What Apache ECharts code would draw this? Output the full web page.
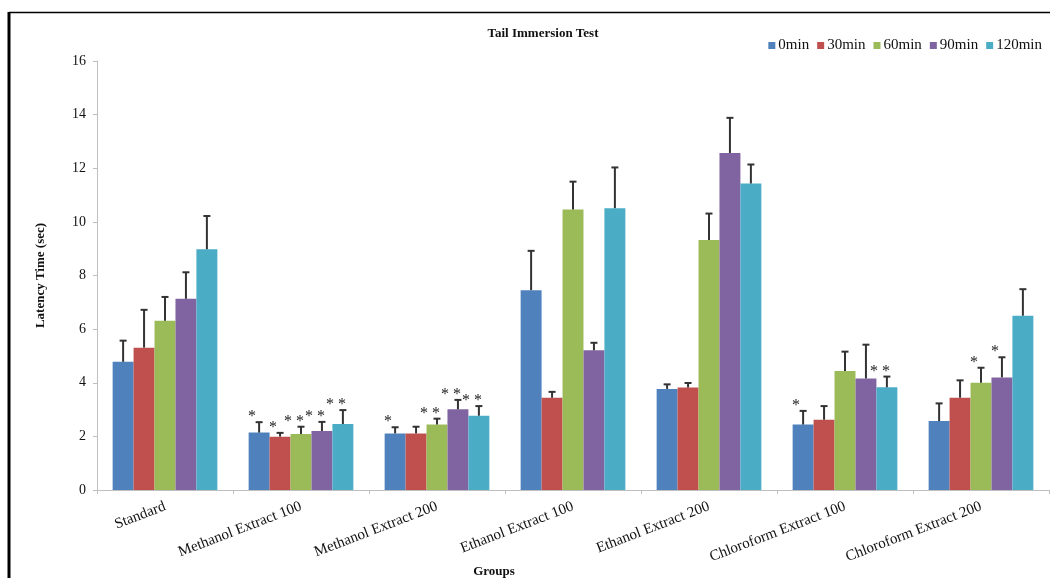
<!DOCTYPE html>
<html>
<head>
<meta charset="utf-8">
<title>Tail Immersion Test</title>
<script src="https://cdn.jsdelivr.net/npm/echarts@6/dist/echarts.min.js"></script>
<style>
  html, body { margin: 0; padding: 0; background: #fff; }
  #chart { width: 1050px; height: 578px; }
</style>
</head>
<body>
<div id="chart"></div>
<script>
// Groups tested and time points
const groups = ['Standard', 'Methanol Extract 100', 'Methanol Extract 200', 'Ethanol Extract 100',
  'Ethanol Extract 200', 'Chloroform Extract 100', 'Chloroform Extract 200'];
const timePoints = ['0min', '30min', '60min', '90min', '120min'];

// Mean latency (sec) per time point
const mean0 = [4.78, 2.14, 2.11, 7.45, 3.77, 2.44, 2.57];
const mean30 = [5.31, 1.99, 2.11, 3.44, 3.82, 2.62, 3.44];
const mean60 = [6.31, 2.09, 2.44, 10.46, 9.32, 4.44, 4.00];
const mean90 = [7.13, 2.20, 3.01, 5.21, 12.57, 4.16, 4.20];
const mean120 = [8.98, 2.46, 2.77, 10.51, 11.43, 3.83, 6.50];

// Standard error per time point
const err0 = [0.79, 0.39, 0.23, 1.47, 0.17, 0.51, 0.66];
const err30 = [1.41, 0.14, 0.25, 0.22, 0.17, 0.51, 0.65];
const err60 = [0.89, 0.27, 0.22, 1.04, 0.99, 0.72, 0.56];
const err90 = [0.99, 0.34, 0.35, 0.28, 1.31, 1.26, 0.75];
const err120 = [1.24, 0.52, 0.36, 1.52, 0.71, 0.40, 0.99];

// Significance marks per time point
const sig0 = ['', '*', '*', '', '', '*', ''];
const sig30 = ['', '*', '', '', '', '', ''];
const sig60 = ['', '**', '**', '', '', '', '*'];
const sig90 = ['', '**', '**', '', '', '', '*'];
const sig120 = ['', '**', '**', '', '', '**', ''];

const yTicks = { min: 0, max: 16, interval: 2 };

const means = [mean0, mean30, mean60, mean90, mean120];
const errs = [err0, err30, err60, err90, err120];
const sigs = [sig0, sig30, sig60, sig90, sig120];
const colors = ['#4F81BD', '#C0504D', '#9BBB59', '#8064A2', '#4BACC6'];

const SERIF = "'Liberation Serif', 'Times New Roman', serif";
const GROUP_FRACTION = 0.77; // share of each category band taken by the bar group

const barSeries = timePoints.map((name, i) => ({
  name: name,
  type: 'bar',
  data: means[i],
  barGap: '0%',
  barCategoryGap: '23%',
  itemStyle: { color: colors[i] },
  z: 2
}));

// Upper error bars with cap and significance marks
const errorSeries = timePoints.map((name, i) => ({
  type: 'custom',
  name: name + ' err',
  z: 5,
  silent: true,
  data: groups.map((g, k) => [k, means[i][k], errs[i][k], sigs[i][k]]),
  encode: { x: 0, y: 1 },
  renderItem: function (params, api) {
    const k = api.value(0);
    const m = api.value(1);
    const e = api.value(2);
    const s = sigs[i][k];
    const base = api.coord([k, m]);
    const topPt = api.coord([k, m + e]);
    const band = api.size([1, 0])[0];
    const bw = band * GROUP_FRACTION / timePoints.length;
    const cx = base[0] + (i - (timePoints.length - 1) / 2) * bw;
    const capHalf = 3.5;
    const lineStyle = { stroke: '#333', lineWidth: 2 };
    const children = [
      { type: 'line', shape: { x1: cx, y1: base[1], x2: cx, y2: topPt[1] }, style: lineStyle },
      { type: 'line', shape: { x1: cx - capHalf, y1: topPt[1], x2: cx + capHalf, y2: topPt[1] }, style: lineStyle }
    ];
    if (s) {
      children.push({
        type: 'text',
        style: {
          text: s.split('').join(' '),
          x: cx - 7,
          y: topPt[1] + 3,
          textAlign: 'center',
          textVerticalAlign: 'bottom',
          font: "16px " + SERIF,
          fill: '#222'
        }
      });
    }
    return { type: 'group', children: children };
  }
}));

const chart = echarts.init(document.getElementById('chart'), null, { renderer: 'canvas' });
chart.setOption({
  animation: false,
  backgroundColor: '#fff',
  color: colors,
  title: {
    text: 'Tail Immersion Test',
    left: 538,
    textAlign: 'center',
    top: 22,
    textStyle: { fontFamily: SERIF, fontSize: 13, fontWeight: 'bold', color: '#111' }
  },
  legend: {
    data: timePoints,
    right: 3,
    top: 33,
    icon: 'rect',
    itemWidth: 7,
    itemHeight: 7,
    itemGap: 8,
    textStyle: { fontFamily: SERIF, fontSize: 15, color: '#111', padding: [0, 0, 0, -2] }
  },
  grid: { left: 97, right: 1, top: 61, bottom: 88, containLabel: false, outerBoundsMode: 'none' },
  xAxis: {
    type: 'category',
    data: groups,
    axisLine: { lineStyle: { color: '#bfbfbf', width: 1 } },
    axisTick: { show: true, length: 4, lineStyle: { color: '#bfbfbf' } },
    axisLabel: {
      interval: 0,
      rotate: 21,
      margin: 16,
      fontFamily: SERIF,
      fontSize: 15,
      color: '#111'
    }
  },
  yAxis: {
    type: 'value',
    min: yTicks.min,
    max: yTicks.max,
    interval: yTicks.interval,
    name: 'Latency Time (sec)',
    nameLocation: 'middle',
    nameGap: 50,
    nameTextStyle: { fontFamily: SERIF, fontSize: 13, fontWeight: 'bold', color: '#111' },
    axisLine: { show: true, lineStyle: { color: '#bfbfbf', width: 1 } },
    axisTick: { show: true, length: 4, lineStyle: { color: '#bfbfbf' } },
    splitLine: { show: false },
    axisLabel: { margin: 11, fontFamily: SERIF, fontSize: 14, color: '#111' }
  },
  graphic: [
    { type: 'line', shape: { x1: 9, y1: 12.5, x2: 1050, y2: 12.5 }, style: { stroke: '#000', lineWidth: 1.5 }, z: 10 },
    { type: 'line', shape: { x1: 9, y1: 12, x2: 9, y2: 578 }, style: { stroke: '#000', lineWidth: 3 }, z: 10 },
    // x-axis title
    {
      type: 'text', x: 494, y: 572, z: 10,
      style: { text: 'Groups', textAlign: 'center', textVerticalAlign: 'middle',
        font: 'bold 13px ' + SERIF, fill: '#111' }
    }
  ],
  series: barSeries.concat(errorSeries)
});
</script>
</body>
</html>
